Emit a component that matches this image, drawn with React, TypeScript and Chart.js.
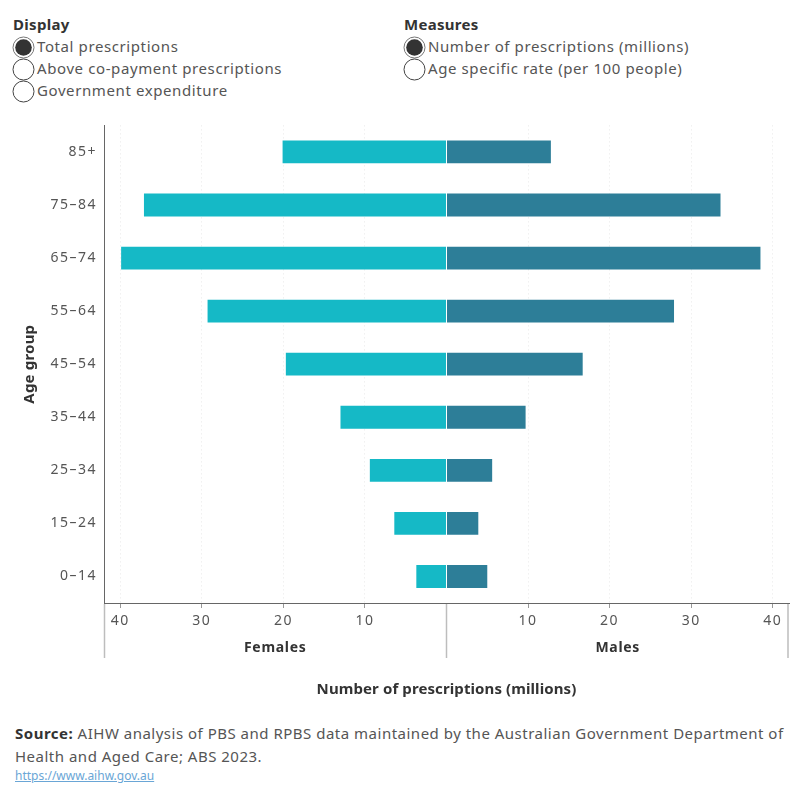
import React, { useEffect, useRef } from "react";
import { Chart, registerables } from "chart.js";

Chart.register(...registerables);

// Age groups, top row first
const ageGroups = ["85+", "75–84", "65–74", "55–64", "45–54", "35–44", "25–34", "15–24", "0–14"];
// Number of prescriptions (millions)
const femalesMillions = [20.1, 37.1, 39.9, 29.3, 19.7, 13.0, 9.4, 6.4, 3.7];
const malesMillions = [12.8, 33.6, 38.5, 27.9, 16.7, 9.7, 5.6, 3.9, 5.0];
// Tick positions either side of zero (females plotted as negatives)
const xTickValues = [-40, -30, -20, -10, 10, 20, 30, 40];
const xLimit = 42;

const displayOptions = ["Total prescriptions", "Above co-payment prescriptions", "Government expenditure"];
const measureOptions = ["Number of prescriptions (millions)", "Age specific rate (per 100 people)"];

const FONT = "'Noto Sans', sans-serif";
const FEMALE_COLOR = "#15B9C6";
const MALE_COLOR = "#2D7E98";

const sexPanels = {
  id: "sexPanels",
  beforeDraw(chart: any) {
    // slightly wider tracking for the axis tick labels
    (chart.ctx as any).letterSpacing = "1.5px";
  },
  afterDatasetsDraw(chart: any) {
    const { ctx, chartArea, scales } = chart;
    const x0 = scales.x.getPixelForValue(0);
    ctx.save();
    ctx.fillStyle = "#ffffff";
    ctx.fillRect(Math.floor(x0), chartArea.top, 1, chartArea.bottom - chartArea.top);
    ctx.restore();
  },
  afterDraw(chart: any) {
    const { ctx, chartArea, scales } = chart;
    const x0 = scales.x.getPixelForValue(0);
    const { left, right, top, bottom } = chartArea;
    ctx.save();
    ctx.strokeStyle = "#bdbdbd";
    ctx.lineWidth = 1.5;
    [left + 0.5, x0, right - 1].forEach((x: number) => {
      ctx.beginPath();
      ctx.moveTo(x, bottom + 1);
      ctx.lineTo(x, bottom + 55);
      ctx.stroke();
    });
    ctx.fillStyle = "#333333";
    ctx.textAlign = "center";
    ctx.textBaseline = "middle";
    (ctx as any).letterSpacing = "0.7px";
    ctx.font = `bold 14px ${FONT}`;
    ctx.fillText("Females", (left + x0) / 2, bottom + 45);
    ctx.fillText("Males", (x0 + right) / 2, bottom + 45);
    (ctx as any).letterSpacing = "0.1px";
    ctx.font = `bold 15px ${FONT}`;
    ctx.fillText("Number of prescriptions (millions)", x0, bottom + 87);
    // y axis title
    ctx.translate(30, (top + bottom) / 2);
    ctx.rotate(-Math.PI / 2);
    (ctx as any).letterSpacing = "0.2px";
    ctx.fillText("Age group", 0, 0);
    ctx.restore();
    (ctx as any).letterSpacing = "0px";
  },
};

function Radio({ selected }: { selected: boolean }) {
  return (
    <svg width={23} height={23} style={{ display: "block" }}>
      <circle cx={11.5} cy={11.5} r={10.5} fill="#fff" stroke={selected ? "#777" : "#444"} strokeWidth={1} />
      {selected && <circle cx={11.5} cy={11.5} r={8.3} fill="#333" />}
    </svg>
  );
}

function RadioGroup({ x, title, items, selectedIndex }: { x: number; title: string; items: string[]; selectedIndex: number }) {
  return (
    <>
      <div style={{ position: "absolute", left: x, top: 14, lineHeight: "20px", fontSize: 15, fontWeight: 700, color: "#333", letterSpacing: "0.3px" }}>
        {title}
      </div>
      {items.map((label, i) => (
        <React.Fragment key={label}>
          <div style={{ position: "absolute", left: x - 1, top: 36 + i * 22 }}>
            <Radio selected={i === selectedIndex} />
          </div>
          <div style={{ position: "absolute", left: x + 24, top: 36 + i * 22, lineHeight: "20px", fontSize: 15, color: "#555", whiteSpace: "nowrap", letterSpacing: "0.6px" }}>
            {label}
          </div>
        </React.Fragment>
      ))}
    </>
  );
}

export default function App() {
  const canvasRef = useRef<HTMLCanvasElement | null>(null);

  useEffect(() => {
    if (!canvasRef.current) return;
    const chart = new Chart(canvasRef.current, {
      type: "bar",
      data: {
        labels: ageGroups,
        datasets: [
          {
            label: "Females",
            data: femalesMillions.map((v) => -v),
            backgroundColor: FEMALE_COLOR,
            barPercentage: 0.43,
            categoryPercentage: 1,
          },
          {
            label: "Males",
            data: malesMillions,
            backgroundColor: MALE_COLOR,
            barPercentage: 0.43,
            categoryPercentage: 1,
          },
        ],
      },
      options: {
        indexAxis: "y",
        responsive: false,
        animation: false,
        devicePixelRatio: 1,
        layout: { padding: { top: 14, right: 11, left: 0, bottom: 0 } },
        plugins: { legend: { display: false }, tooltip: { enabled: false } },
        scales: {
          x: {
            stacked: true,
            min: -xLimit,
            max: xLimit,
            afterBuildTicks(scale: any) {
              scale.ticks = xTickValues.map((v) => ({ value: v }));
            },
            afterFit(scale: any) {
              scale.height = 107;
            },
            grid: {
              color: "#e8e8e8",
              tickColor: "#999",
              tickLength: 5,
              drawTicks: true,
            },
            border: { display: true, color: "#666", width: 1, dash: [1, 3] },
            ticks: {
              color: "#555",
              font: { family: FONT, size: 14 },
              padding: 5,
              maxRotation: 0,
              callback: (value: any) => String(Math.abs(Number(value))),
            },
          },
          y: {
            stacked: true,
            afterFit(scale: any) {
              scale.width = 104;
            },
            grid: { display: false, drawTicks: false },
            border: { display: true, color: "#666", width: 1 },
            ticks: { color: "#555", font: { family: FONT, size: 14 }, padding: 7 },
            title: { display: false },
          },
        },
      },
      plugins: [sexPanels],
    });
    return () => chart.destroy();
  }, []);

  return (
    <div style={{ position: "absolute", left: 0, top: 0, width: 800, height: 800, background: "#fff", fontFamily: FONT, overflow: "hidden" }}>
      <RadioGroup x={13} title="Display" items={displayOptions} selectedIndex={0} />
      <RadioGroup x={404} title="Measures" items={measureOptions} selectedIndex={0} />
      <canvas ref={canvasRef} width={800} height={600} style={{ position: "absolute", left: 0, top: 110, width: 800, height: 600 }} />
      <div style={{ position: "absolute", left: 15, top: 722, width: 785, fontSize: 15, lineHeight: "23px", color: "#555", letterSpacing: "0.5px", whiteSpace: "nowrap" }}>
        <span style={{ fontWeight: 700, color: "#333" }}>Source:</span> AIHW analysis of PBS and RPBS data maintained by the Australian Government Department of
        <br />
        Health and Aged Care; ABS 2023.
      </div>
      <div style={{ position: "absolute", left: 15, top: 768, fontSize: 12, lineHeight: "16px", color: "#6aa6d6", textDecoration: "underline" }}>
        https://www.aihw.gov.au
      </div>
    </div>
  );
}
